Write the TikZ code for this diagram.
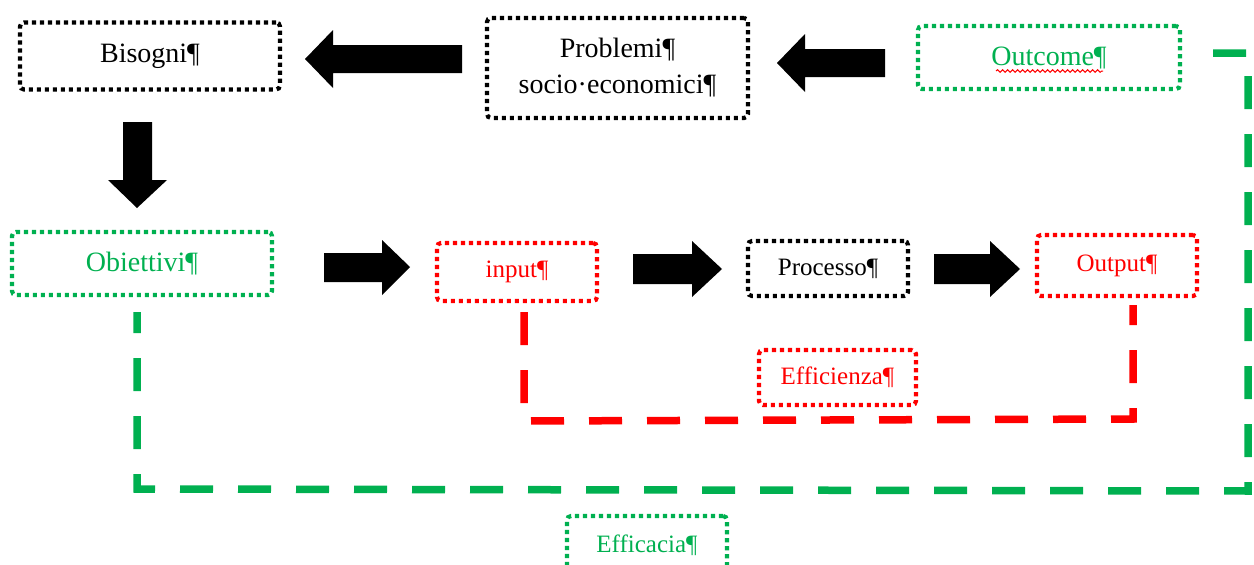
\documentclass[tikz,border=0pt]{standalone}
\usepackage{fontspec}
\setmainfont{Liberation Serif}
\usetikzlibrary{decorations.pathmorphing}
\definecolor{ggreen}{HTML}{00B050}
\definecolor{rred}{HTML}{FF0000}
\begin{document}
\begin{tikzpicture}[x=1pt,y=-1pt,
  dotbox/.style={draw, line width=4.2pt, dash pattern=on 4.2pt off 3.8pt, rounded corners=4pt, inner sep=0pt, align=center},
  bigtxt/.style={font=\fontsize{28}{32}\selectfont},
  smltxt/.style={font=\fontsize{25}{29}\selectfont},
  blockarrow/.style={fill=black},
  longdash/.style={line width=7.5pt, dash pattern=on 33pt off 25pt},
]
\useasboundingbox (0,0) rectangle (1254,565);
\clip (0,0) rectangle (1254,565);
% boxes
\node[dotbox, bigtxt, minimum width=260pt, minimum height=67pt] (bis) at (150,56) {Bisogni¶};
\node[dotbox, bigtxt, minimum width=261pt, minimum height=100pt, font=\fontsize{28}{36}\selectfont] (prob) at (617.5,68) {Problemi¶\\socio·economici¶};
\node[dotbox, bigtxt, draw=ggreen, text=ggreen, minimum width=262pt, minimum height=63pt] (outc) at (1049,57.5) {Outcome¶};
\node[dotbox, bigtxt, draw=ggreen, text=ggreen, minimum width=260pt, minimum height=63pt] (obi) at (142,263.5) {Obiettivi¶};
\node[dotbox, smltxt, draw=rred, text=rred, minimum width=160pt, minimum height=58pt] (inp) at (517,272) {input¶};
\node[dotbox, smltxt, minimum width=160pt, minimum height=55pt] (proc) at (828,268.5) {Processo¶};
\node[dotbox, smltxt, draw=rred, text=rred, minimum width=160pt, minimum height=61pt] (outp) at (1117,265.5) {Output¶};
\node[dotbox, smltxt, draw=rred, text=rred, minimum width=157pt, minimum height=55pt] (eff) at (837.5,377.5) {Efficienza¶};
\node[dotbox, smltxt, draw=ggreen, text=ggreen, minimum width=160pt, minimum height=58pt] (effc) at (647,545) {Efficacia¶};
% wavy underline
\draw[rred, line width=1pt, decorate, decoration={snake, amplitude=1.3pt, segment length=5pt}] (996,71) -- (1103,71);
% block arrows
\fill[blockarrow] (305,59) -- (333,30) -- (333,45) -- (462,45) -- (462,73) -- (333,73) -- (333,88) -- cycle;
\fill[blockarrow] (777,63) -- (805,34) -- (805,49) -- (885,49) -- (885,77) -- (805,77) -- (805,92) -- cycle;
\fill[blockarrow] (137,208) -- (108,180) -- (123,180) -- (123,122) -- (152,122) -- (152,180) -- (167,180) -- cycle;
\fill[blockarrow] (410,267) -- (382,240) -- (382,253) -- (324,253) -- (324,282) -- (382,282) -- (382,295) -- cycle;
\fill[blockarrow] (722,269) -- (692,241) -- (692,254) -- (633,254) -- (633,284) -- (692,284) -- (692,297) -- cycle;
\fill[blockarrow] (1020,269) -- (990,241) -- (990,254) -- (934,254) -- (934,284) -- (990,284) -- (990,297) -- cycle;
% dashed connectors
\coordinate (r1) at (524,312);
\coordinate (r2) at (524,421);
\coordinate (r3) at (1133,419);
\coordinate (r4) at (1133,305);
\draw[rred, longdash] (r1) -- (r2) -- (r3) -- (r4);
\coordinate (g1) at (1213,53);
\coordinate (g2) at (1248,53);
\coordinate (g3) at (1248,491);
\coordinate (g4) at (137,489);
\coordinate (g5) at (137,312);
\draw[ggreen, longdash] (g1) -- (g2) -- (g3) -- (g4) -- (g5);
\end{tikzpicture}
\end{document}
